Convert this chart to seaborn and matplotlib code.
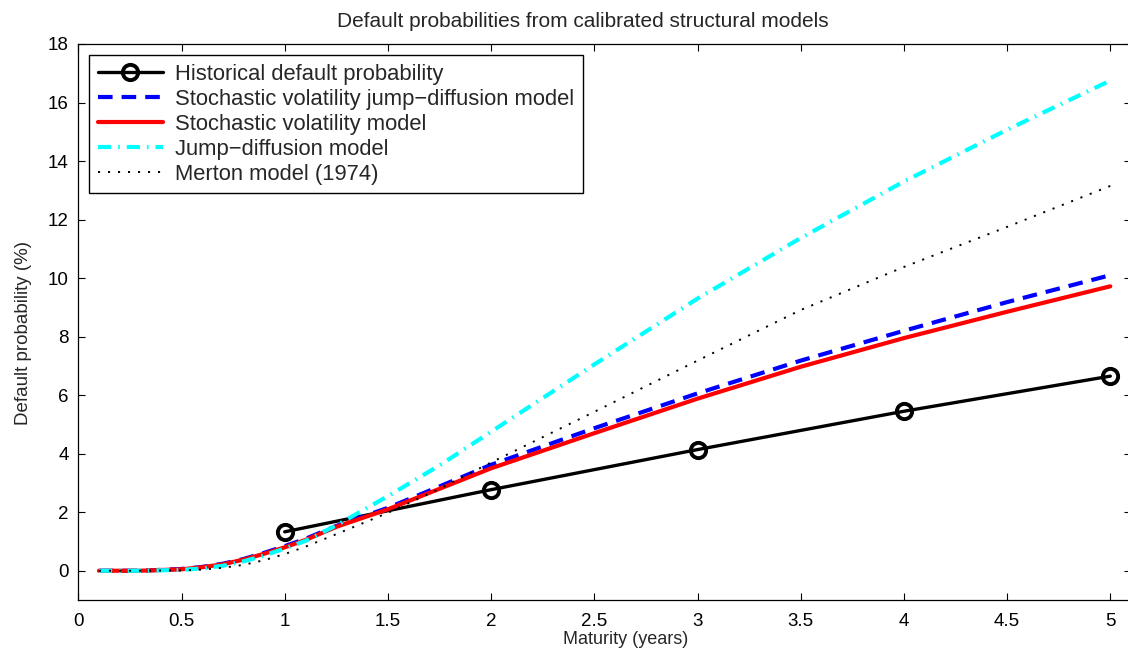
import matplotlib
matplotlib.use("Agg")
import matplotlib.pyplot as plt
import seaborn as sns
import numpy as np

# ---- data ----
maturity_hist = [1, 2, 3, 4, 5]
historical = [1.33, 2.77, 4.14, 5.45, 6.65]

maturity = [0.1, 0.3, 0.5, 0.6, 0.7, 0.8, 0.9, 1.0, 1.1, 1.25, 1.5, 1.75, 2.0, 2.5, 3.0, 3.5, 4.0, 4.5, 5.0]
svjd = [0.0, 0.0, 0.06, 0.13, 0.24, 0.40, 0.61, 0.84, 1.09, 1.53, 2.15, 2.88, 3.62, 4.87, 6.06, 7.18, 8.20, 9.18, 10.10]
sv = [0.0, 0.0, 0.05, 0.12, 0.22, 0.38, 0.58, 0.80, 1.05, 1.50, 2.10, 2.80, 3.50, 4.70, 5.88, 6.97, 7.95, 8.85, 9.72]
jd = [0.0, 0.0, 0.03, 0.08, 0.17, 0.32, 0.52, 0.76, 1.02, 1.55, 2.55, 3.60, 4.75, 7.05, 9.30, 11.37, 13.30, 15.07, 16.75]
merton = [0.0, 0.0, 0.01, 0.04, 0.10, 0.20, 0.36, 0.57, 0.82, 1.25, 1.98, 2.80, 3.70, 5.43, 7.18, 8.91, 10.38, 11.75, 13.15]

labels = ["Historical default probability",
          "Stochastic volatility jump\u2212diffusion model",
          "Stochastic volatility model",
          "Jump\u2212diffusion model",
          "Merton model (1974)"]

title = "Default probabilities from calibrated structural models"
xlabel = "Maturity (years)"
ylabel = "Default probability (%)"
xticks = [0, 0.5, 1, 1.5, 2, 2.5, 3, 3.5, 4, 4.5, 5]
yticks = [0, 2, 4, 6, 8, 10, 12, 14, 16, 18]

sns.set_theme(style="white")
plt.rcParams['font.family'] = ['Liberation Sans', 'DejaVu Sans']
plt.rcParams['lines.scale_dashes'] = False

W, H = 1128, 660
fig = plt.figure(figsize=(W / 100, H / 100), dpi=100)
left_px, right_px, top_px, bottom_px = 78.3, 1131.0, 44, 600
ax = fig.add_axes([left_px / W, (H - bottom_px) / H,
                   (right_px - left_px) / W, (bottom_px - top_px) / H])

sns.lineplot(x=maturity_hist, y=historical, ax=ax, color='black', lw=2.4,
             marker='o', markersize=11, markerfacecolor='none', markeredgecolor='black',
             markeredgewidth=2.8, label=labels[0])
sns.lineplot(x=maturity, y=svjd, ax=ax, color='#0000ff', lw=3.0,
             linestyle=(0, (10.5, 6.5)), label=labels[1])
sns.lineplot(x=maturity, y=sv, ax=ax, color='#ff0000', lw=3.0,
             linestyle='-', label=labels[2])
sns.lineplot(x=maturity, y=jd, ax=ax, color='#00ffff', lw=3.0,
             linestyle=(0, (9.5, 5.0, 1.2, 5.0)), label=labels[3])
sns.lineplot(x=maturity, y=merton, ax=ax, color='black', lw=1.4,
             linestyle=(0, (1.5, 5.7)), label=labels[4])

ax.set_xlim(0, (right_px - left_px) / 206.4)
ax.set_ylim(-1, 18)
ax.set_xticks(xticks)
ax.set_xticklabels([f"{t:g}" for t in xticks], fontsize=13.5)
ax.set_yticks(yticks)
ax.set_yticklabels([f"{t:g}" for t in yticks], fontsize=13.5)
ax.tick_params(direction='in', length=5, width=0.8, top=True, right=True,
               bottom=True, left=True, colors='black')
ax.tick_params(axis='x', pad=9)
ax.tick_params(axis='y', pad=7)
for s in ax.spines.values():
    s.set_color('black')
    s.set_linewidth(0.9)

ax.set_xlabel(xlabel, fontsize=13)
ax.xaxis.set_label_coords((626 - left_px) / (right_px - left_px), -0.056)
ax.set_ylabel(ylabel, fontsize=13.5)
ax.yaxis.set_label_coords((32 - left_px) / (right_px - left_px),
                          (bottom_px - 333) / (bottom_px - top_px))
ax.set_title(title, fontsize=15, pad=12,
             x=(583 - left_px) / (right_px - left_px))

leg = ax.legend(loc='upper left',
                bbox_to_anchor=((89.3 - left_px) / (right_px - left_px),
                                (bottom_px - 55) / (bottom_px - top_px)),
                borderaxespad=0, fontsize=15.8, frameon=True, fancybox=False,
                edgecolor='black', handlelength=2.95, handletextpad=0.56,
                labelspacing=0.18, borderpad=0.4, framealpha=1)
leg.get_frame().set_linewidth(1.0)

fig.savefig("out.png", dpi=100)
